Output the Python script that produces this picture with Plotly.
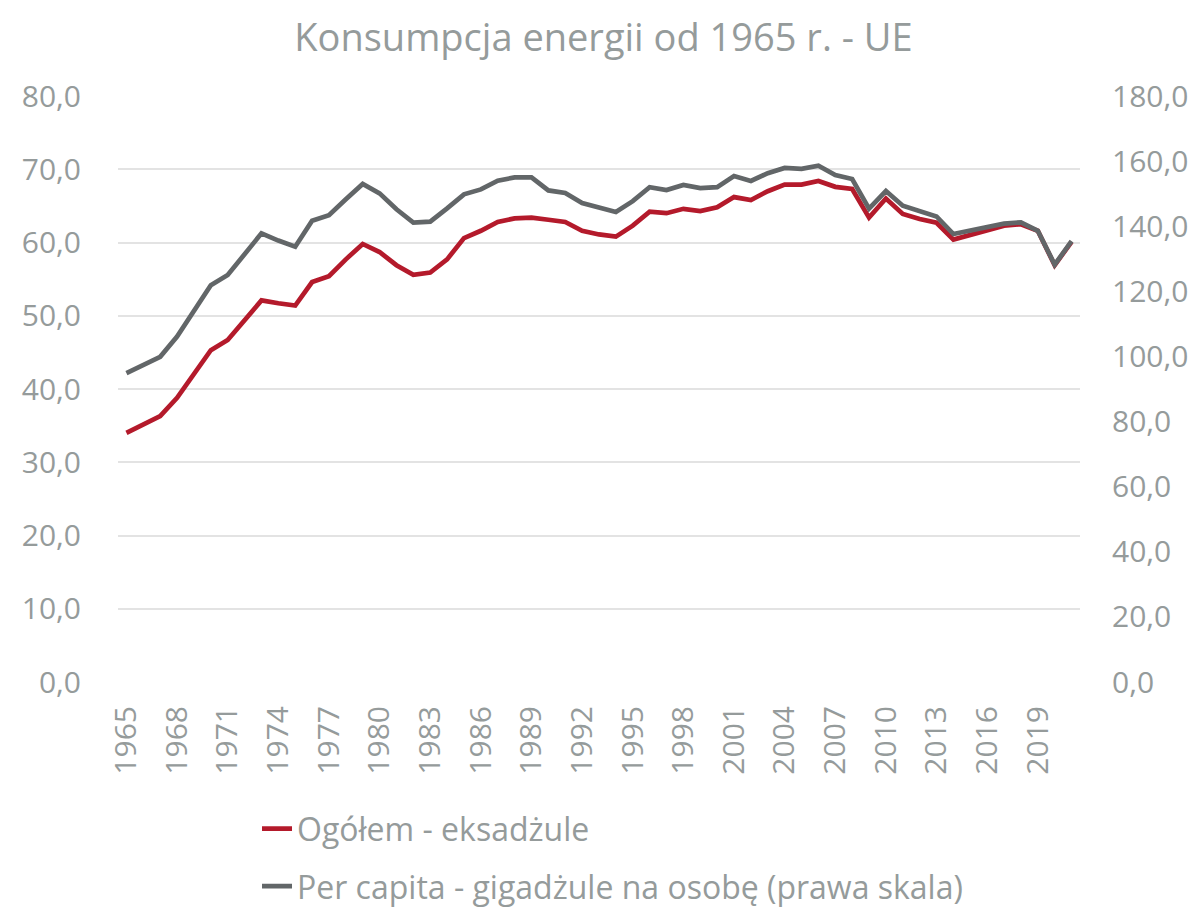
import plotly.graph_objects as go

years = list(range(1965, 2022))

total_ej = [
    34.0, 35.1, 36.3, 38.8, 42.1, 45.3, 46.7, 49.4, 52.1, 51.7,
    51.4, 54.6, 55.4, 57.7, 59.8, 58.7, 56.9, 55.6, 55.9, 57.7,
    60.6, 61.6, 62.8, 63.3, 63.4, 63.1, 62.8, 61.6, 61.1, 60.8,
    62.3, 64.2, 64.0, 64.6, 64.3, 64.8, 66.2, 65.8, 67.0, 67.9,
    67.9, 68.4, 67.6, 67.3, 63.4, 66.0, 63.9, 63.2, 62.7, 60.4,
    61.0, 61.7, 62.3, 62.5, 61.6, 56.9, 60.1,
]

per_capita_gj = [
    94.9, 97.4, 99.9, 106.1, 114.3, 121.9, 125.0, 131.2, 137.8, 135.6,
    133.7, 141.7, 143.4, 148.3, 153.0, 150.1, 145.2, 141.1, 141.4, 145.5,
    149.8, 151.3, 154.0, 155.0, 155.0, 151.0, 150.2, 147.1, 145.6, 144.4,
    147.7, 152.0, 151.1, 152.7, 151.7, 152.0, 155.4, 153.9, 156.3, 157.9,
    157.6, 158.6, 155.7, 154.5, 145.4, 150.8, 146.3, 144.6, 143.0, 137.6,
    138.6, 139.8, 140.8, 141.2, 138.6, 128.2, 135.4,
]

x_tick_years = list(range(1965, 2020, 3))
left_ticks = list(range(0, 81, 10))
right_ticks = list(range(0, 181, 20))

title_text = "Konsumpcja energii od 1965 r. - UE"
name_total = "Ogółem - eksadżule"
name_pc = "Per capita - gigadżule na osobę (prawa skala)"

RED = "#b41a2b"
GRAY = "#626668"
TXT = "#959b9b"
GRID = "#e3e3e3"
FONT = "Open Sans"

fig = go.Figure()
fig.add_trace(go.Scatter(
    x=years, y=total_ej, name=name_total, mode="lines",
    line=dict(color=RED, width=4.7), legendgroup="a",
))
fig.add_trace(go.Scatter(
    x=years, y=per_capita_gj, name=name_pc, mode="lines",
    line=dict(color=GRAY, width=4.7), yaxis="y2", legendgroup="b",
))

fig.update_layout(
    width=1191, height=899,
    margin=dict(l=110, r=119, t=88, b=225, autoexpand=False),
    paper_bgcolor="white", plot_bgcolor="white",
    separators=", ",
    font=dict(family=FONT, color=TXT, size=30),
    title=dict(text=title_text, x=0.5, xanchor="center", y=0.967, yanchor="middle",
               font=dict(family=FONT, size=38, color=TXT)),
    xaxis=dict(
        range=[1964.5, 2021.5], tickmode="array", tickvals=x_tick_years,
        ticktext=[str(y) for y in x_tick_years], tickangle=-90,
        showgrid=False, zeroline=False, showline=False, ticks="",
        ticklabelstandoff=17, automargin=False,
        tickfont=dict(size=30, color=TXT, family=FONT),
    ),
    yaxis=dict(
        range=[0, 80], tickmode="array", tickvals=left_ticks, tickformat=".1f",
        showgrid=True, gridcolor=GRID, gridwidth=1.5, zeroline=False,
        showline=False, ticks="", ticklabelstandoff=36, automargin=False,
        tickfont=dict(size=30, color=TXT, family=FONT),
    ),
    yaxis2=dict(
        range=[0, 180], tickmode="array", tickvals=right_ticks, tickformat=".1f",
        overlaying="y", side="right", showgrid=False, zeroline=False,
        showline=False, ticks="", ticklabelstandoff=31, automargin=False,
        tickfont=dict(size=30, color=TXT, family=FONT),
    ),
    showlegend=True,
    legend=dict(
        orientation="v", x=0.1445, xanchor="left", y=-0.2035, yanchor="top",
        font=dict(family=FONT, size=32, color=TXT),
        tracegroupgap=13, bgcolor="rgba(0,0,0,0)",
    ),
)

fig.write_html("out.html")
